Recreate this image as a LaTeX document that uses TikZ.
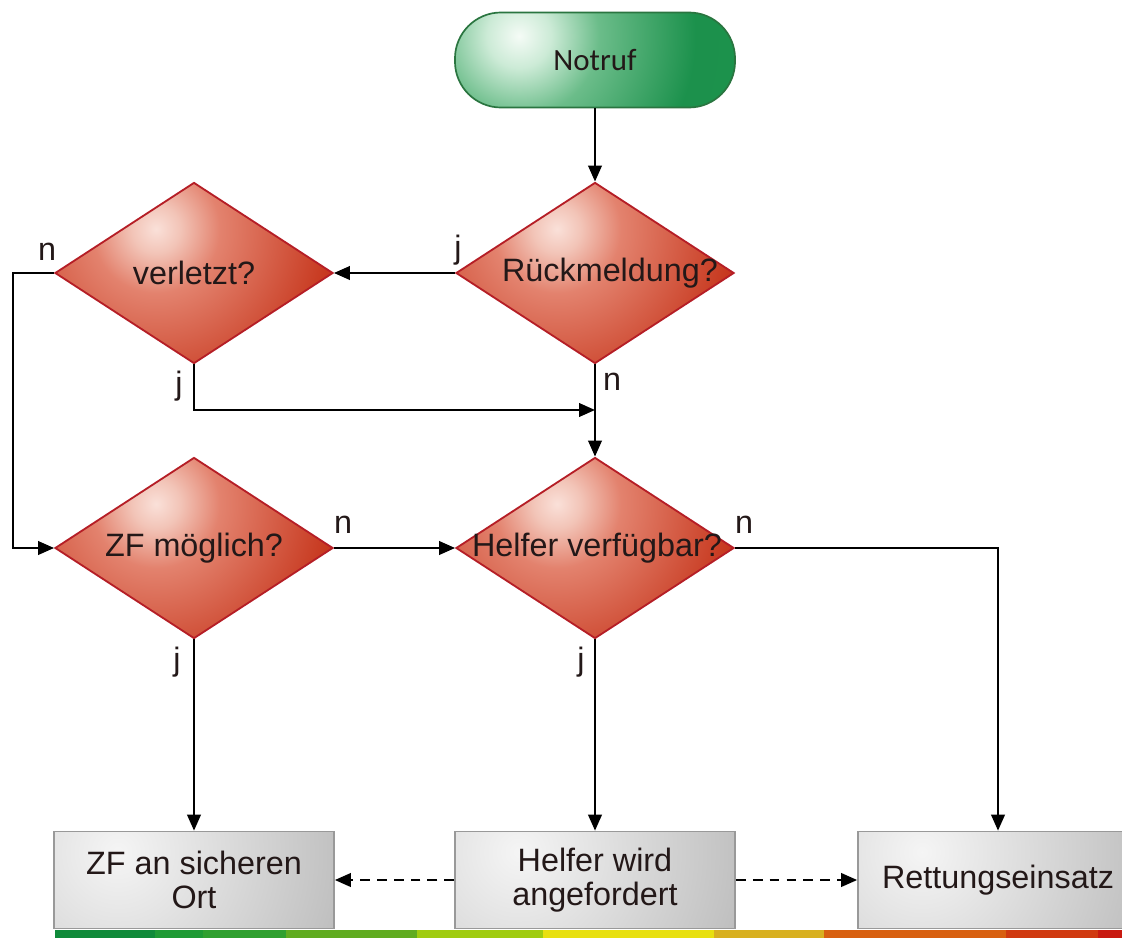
\documentclass[tikz,border=0pt]{standalone}
\usepackage{fontspec}
\setmainfont{Liberation Sans}
\newfontfamily\notruffont{Carlito}
\usetikzlibrary{shapes.geometric,arrows.meta}

\definecolor{grnouter}{HTML}{1C924C}
\definecolor{grnline}{HTML}{2A7540}
\definecolor{redouter}{HTML}{C6381F}
\definecolor{redline}{HTML}{B51E26}
\definecolor{grayouter}{HTML}{8F8F8F}
\definecolor{grayline}{HTML}{999999}
\definecolor{inktext}{HTML}{231818}
\definecolor{barA}{HTML}{108A3A}
\definecolor{barB}{HTML}{1F9A35}
\definecolor{barC}{HTML}{30A030}
\definecolor{barD}{HTML}{60AC20}
\definecolor{barE}{HTML}{A0CC10}
\definecolor{barF}{HTML}{E8E010}
\definecolor{barG}{HTML}{D8B020}
\definecolor{barH}{HTML}{D86010}
\definecolor{barI}{HTML}{D03A10}
\definecolor{barJ}{HTML}{C81A10}

\pgfdeclareradialshading{greenglow}{\pgfpoint{0bp}{0bp}}{rgb(0bp)=(0.96,0.985,0.965);
  rgb(4bp)=(0.80,0.92,0.84); rgb(10bp)=(0.42,0.74,0.54); rgb(22bp)=(0.11,0.57,0.30); rgb(50bp)=(0.11,0.57,0.30)}
\pgfdeclareradialshading{redglow}{\pgfpoint{0bp}{0bp}}{rgb(0bp)=(0.98,0.88,0.85);
  rgb(3bp)=(0.95,0.77,0.72); rgb(8bp)=(0.89,0.51,0.43); rgb(22bp)=(0.78,0.22,0.12); rgb(50bp)=(0.78,0.22,0.12)}
\pgfdeclareradialshading{grayglow}{\pgfpoint{0bp}{0bp}}{rgb(0bp)=(0.96,0.96,0.96);
  rgb(6bp)=(0.88,0.88,0.88); rgb(15bp)=(0.76,0.76,0.76); rgb(28bp)=(0.56,0.56,0.56); rgb(50bp)=(0.56,0.56,0.56)}

\tikzset{
  glow/.style n args={5}{path picture={
      \fill[#2] (path picture bounding box.south west) rectangle (path picture bounding box.north east);
      \shade[shading=#1] ([xshift=#3,yshift=#4]path picture bounding box.center) circle (#5);}},
  startbox/.style={rectangle,rounded corners=1.15cm,minimum width=7cm,minimum height=2.375cm,
      draw=grnline,line width=1.2pt,glow={greenglow}{grnouter}{-1.9cm}{0.6cm}{5cm},font=\notruffont\fontsize{22}{24}\selectfont},
  askbox/.style={diamond,minimum width=6.95cm,minimum height=4.525cm,inner sep=0pt,
      draw=redline,line width=1.3pt,glow={redglow}{redouter}{-0.95cm}{1.1cm}{5cm}},
  endbox/.style={rectangle,minimum width=7cm,minimum height=2.425cm,align=center,
      draw=grayline,line width=1.2pt,glow={grayglow}{grayouter}{-1.9cm}{0.7cm}{9cm}},
  arr/.style={line width=1.5pt,-{Triangle[length=4mm,width=3.4mm]}},
  tag/.style={inner sep=0pt}
}

\begin{document}
\begin{tikzpicture}[x=0.025cm,y=-0.025cm,font=\fontsize{23}{24}\selectfont,text=inktext]

  \useasboundingbox (0,0) rectangle (1122,938);
  \clip (0,0) rectangle (1122,938);

  \node[startbox] (notruf) at (595,60) {Notruf};

  \node[askbox,label={[xshift=0.375cm]center:Rückmeldung?}] (rueck) at (595,273) {};
  \node[askbox,label=center:verletzt?] (verl) at (194,273) {};
  \node[askbox,label=center:ZF möglich?] (zf) at (194,548) {};
  \node[askbox,label={[xshift=0.05cm]center:Helfer verfügbar?}] (helfer) at (595,548) {};

  \node[endbox] (ort) at (194,880) {ZF an sicheren\\Ort};
  \node[endbox] (anf) at (595,880) {Helfer wird\\angefordert};
  \node[endbox] (rett) at (998,880) {Rettungseinsatz};

  \coordinate (lft) at (13,273);
  \coordinate (mrg) at (595,410);

  % connectors
  \draw[arr] (notruf) -- (rueck.north);
  \draw[arr] (rueck.west) -- (verl.east);
  \draw[arr] (verl.west) -- (lft) |- (zf.west);
  \draw[arr] (verl.south) |- (mrg);
  \draw[arr] (rueck.south) -- (helfer.north);
  \draw[arr] (zf.east) -- (helfer.west);
  \draw[arr] (helfer.east) -| (rett.north);
  \draw[arr] (zf.south) -- (ort.north);
  \draw[arr] (helfer.south) -- (anf.north);
  \draw[arr,dashed,dash pattern=on 7pt off 5pt] (anf.west) -- (ort.east);
  \draw[arr,dashed,dash pattern=on 7pt off 5pt] (anf.east) -- (rett.west);

  % j / n
  \begin{scope}[every node/.style={tag}]
    \node (t1) at (458,250) {j};
    \node (t2) at (47,252) {n};
    \node (t3) at (179,386) {j};
    \node (t4) at (612,382) {n};
    \node (t5) at (343,525) {n};
    \node (t6) at (744,525) {n};
    \node (t7) at (177,662) {j};
    \node (t8) at (581,662) {j};
  \end{scope}

  % colour bar
  \foreach \a/\b/\c in {55/155/barA,155/203/barB,203/286/barC,286/417/barD,417/543/barE,
                        543/714/barF,714/824/barG,824/1006/barH,1006/1098/barI,1098/1122/barJ}
    \fill[\c] (\a,930) rectangle (\b,938);

\end{tikzpicture}
\end{document}
